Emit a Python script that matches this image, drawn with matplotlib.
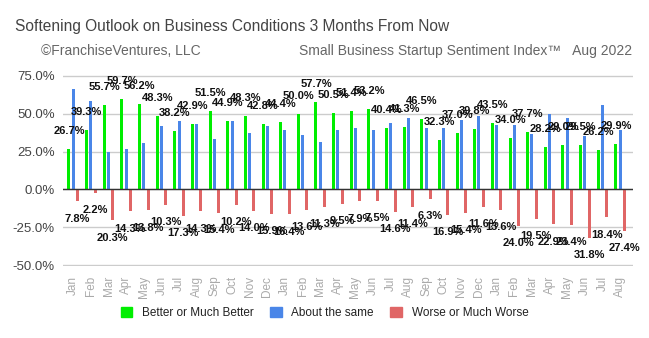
import numpy as np
import matplotlib.pyplot as plt
from matplotlib.patches import Patch

plt.rcParams['font.family'] = ['Liberation Sans', 'DejaVu Sans']

# months Jan 2020 .. Aug 2022
months = ["Jan", "Feb", "Mar", "Apr", "May", "Jun", "Jul", "Aug", "Sep", "Oct", "Nov", "Dec",
          "Jan", "Feb", "Mar", "Apr", "May", "Jun", "Jul", "Aug", "Sep", "Oct", "Nov", "Dec",
          "Jan", "Feb", "Mar", "Apr", "May", "Jun", "Jul", "Aug"]

better = [26.7, 39.3, 55.7, 59.7, 56.2, 48.3, 38.2, 42.9, 51.5, 44.9, 48.3, 42.8,
          44.4, 50.0, 57.7, 50.5, 51.4, 53.2, 40.4, 41.3, 46.5, 32.3, 37.0, 39.8,
          43.5, 34.0, 37.7, 28.2, 29.0, 29.5, 26.2, 29.9]

same = [66.1, 58.6, 24.4, 26.6, 30.3, 41.5, 45.0, 42.8, 33.2, 45.0, 37.5, 41.5,
        39.1, 36.2, 31.0, 39.5, 40.8, 39.5, 44.1, 47.4, 40.8, 40.8, 45.7, 48.1,
        42.4, 42.4, 36.4, 49.6, 47.4, 34.9, 55.5, 38.9]

worse = [7.8, 2.2, 20.3, 14.3, 13.8, 10.3, 17.3, 14.3, 15.4, 10.2, 14.0, 15.9,
         16.4, 13.6, 11.3, 9.5, 7.9, 7.5, 14.6, 11.4, 6.3, 16.9, 15.4, 11.6,
         13.6, 24.0, 19.5, 22.9, 23.4, 31.8, 18.4, 27.4]

green = '#00ee00'
blue = '#4a86e8'
red = '#e06666'

fig = plt.figure(figsize=(6.49, 3.38), dpi=100)
ax = fig.add_axes([63 / 649, 1 - 266 / 338, 570 / 649, 191 / 338])

x = np.arange(len(months))
off = 0.24
w = 0.17
ax.bar(x - off, better, width=w, color=green, zorder=3)
ax.bar(x, same, width=w, color=blue, zorder=3)
ax.bar(x + off, [-v for v in worse], width=w, color=red, zorder=3)

# data labels (green above, red below)
for i in range(len(months)):
    ax.annotate(f"{better[i]:.1f}%", (x[i] - off, better[i]), xytext=(0, 13),
                textcoords='offset points', ha='center', va='center',
                fontsize=8, fontweight='bold', color='#111111', zorder=5)
    ax.annotate(f"{worse[i]:.1f}%", (x[i] + off, -worse[i]), xytext=(0, -12.5),
                textcoords='offset points', ha='center', va='center',
                fontsize=8, fontweight='bold', color='#111111', zorder=5)

ax.set_xlim(-0.58, 31.73)
ax.set_ylim(-50.4, 75.4)
ax.set_yticks([-50, -25, 0, 25, 50, 75])
ax.set_yticklabels([f"{v:.1f}%" for v in [-50, -25, 0, 25, 50, 75]], fontsize=9.5, color='#444444')
ax.set_xticks(x)
ax.set_xticklabels(months, rotation=90, fontsize=8.5, color='#aaaaaa', va='top')
ax.tick_params(length=0)
ax.tick_params(axis='y', pad=6)
ax.tick_params(axis='x', pad=7)
ax.yaxis.grid(True, color='#cccccc', lw=1, zorder=0)
ax.axhline(0, color='#333333', lw=1, zorder=4)
for s in ax.spines.values():
    s.set_visible(False)

fig.text(15 / 649, 1 - 26 / 338, "Softening Outlook on Business Conditions 3 Months From Now",
         fontsize=11.2, color='#444444', va='center', ha='left')
fig.text(41 / 649, 1 - 51 / 338, "©FranchiseVentures, LLC",
         fontsize=10, color='#666666', va='center', ha='left')
fig.text(632 / 649, 1 - 51 / 338, "Small Business Startup Sentiment Index™   Aug 2022",
         fontsize=10, color='#666666', va='center', ha='right')

handles = [Patch(color=green, label='Better or Much Better'),
           Patch(color=blue, label='About the same'),
           Patch(color=red, label='Worse or Much Worse')]
fig.legend(handles=handles, loc='center', bbox_to_anchor=(0.5, 1 - 313 / 338), ncol=3,
           frameon=False, fontsize=8.5, handlelength=1.0, handleheight=1.0,
           handletextpad=0.8, columnspacing=1.4, labelcolor='#222222')

fig.savefig('out.png', dpi=100, facecolor='white')
